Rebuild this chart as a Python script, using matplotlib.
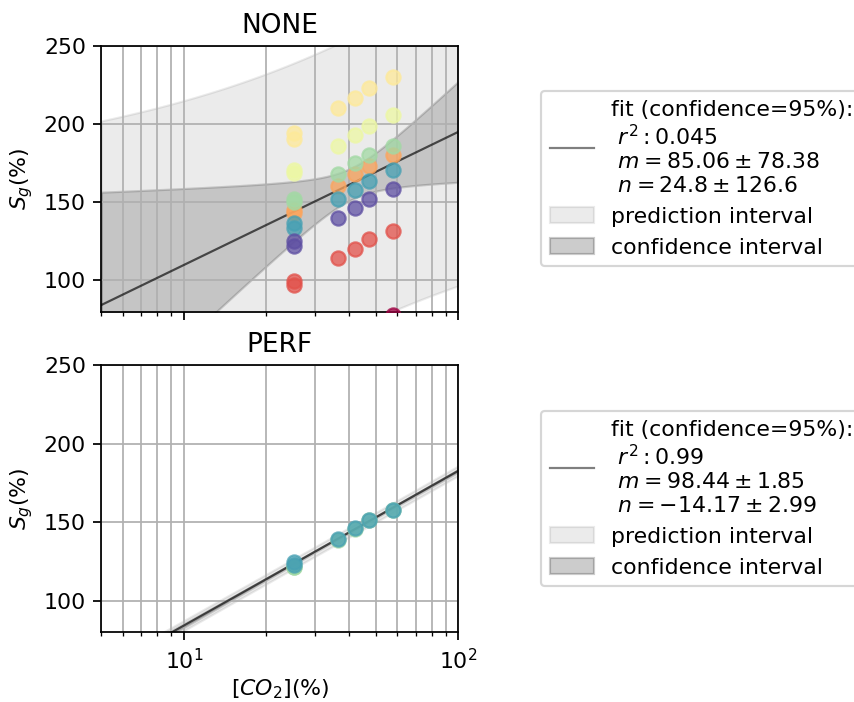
import numpy as np
import matplotlib
matplotlib.use("Agg")
import matplotlib.pyplot as plt
from matplotlib.lines import Line2D
from matplotlib.patches import Patch

# CO2 concentration of each sample (first level measured twice)
co2 = [25.3, 25.3, 36.5, 42.1, 47.4, 57.7]

# NONE: measured S_g per series (Spectral colour order)
none_series = [
    [np.nan, np.nan, np.nan, np.nan, np.nan, 78.0],
    [99.4, 97.2, 114.3, 120.0, 126.4, 131.7],
    [144.7, 143.0, 160.6, 167.9, 173.2, 180.2],
    [194.5, 190.2, 210.0, 216.8, 222.8, 229.8],
    [170.7, 168.5, 186.0, 193.0, 198.7, 205.8],
    [152.0, 150.0, 167.9, 174.9, 180.2, 186.0],
    [136.6, 133.4, 152.0, 157.9, 163.8, 170.7],
    [124.9, 121.7, 139.8, 146.2, 152.0, 158.3],
]

# PERF: measured S_g (two overlapping series)
perf_series = {
    5: [121.6, 121.6, 138.8, 145.8, 151.2, 157.5],
    6: [124.8, 122.6, 139.1, 146.1, 151.4, 157.7],
}

panels = ["NONE", "PERF"]
r2 = ["0.045", "0.99"]
slope = [85.06, 98.44]
slope_err = [78.38, 1.85]
intercept = [24.8, -14.17]
intercept_err = [126.6, 2.99]
log_x_mean = [1.61, 1.605]
resid_spread = [93.0, 3.0]

colors = plt.cm.Spectral(np.linspace(0, 1, 8))

W, H, DPI = 854, 702, 158
fig = plt.figure(figsize=(W / DPI, H / DPI), dpi=DPI)
ax_top = fig.add_axes([0.1186, 0.556, 0.418, 0.3789])
ax_bot = fig.add_axes([0.1186, 0.0993, 0.418, 0.3808], sharex=ax_top)
axes = [ax_top, ax_bot]

u = np.linspace(np.log10(5), 2, 300)
xs = 10 ** u

for i, ax in enumerate(axes):
    m, n = slope[i], intercept[i]
    me, ne = slope_err[i], intercept_err[i]
    fit = m * u + n
    ci = np.sqrt(np.clip(ne ** 2 + me ** 2 * (u ** 2 - 2 * u * log_x_mean[i]), 0, None))
    pi = np.sqrt(resid_spread[i] ** 2 + ci ** 2)

    ax.fill_between(xs, fit - pi, fit + pi, color="k", alpha=0.08)
    ax.fill_between(xs, fit - ci, fit + ci, color="k", alpha=0.16)
    ax.plot(xs, fit, color="k", alpha=0.65, lw=1, zorder=2.5)

    if i == 0:
        for k, ys in enumerate(none_series):
            ax.scatter(co2, ys, color=colors[k], alpha=0.75, s=42, zorder=3)
    else:
        for k, ys in perf_series.items():
            ax.scatter(co2, ys, color=colors[k], alpha=0.75, s=42, zorder=3)

    ax.set_xscale("log")
    ax.set_xlim(5, 100)
    ax.set_ylim(80, 250)
    ax.set_yticks([100, 150, 200, 250])
    ax.grid(True, which="major", axis="both", color="#b0b0b0")
    ax.grid(True, which="minor", axis="x", color="#b0b0b0")
    ax.set_title(panels[i])
    ax.set_ylabel(r"$S_g(\%)$")

    label = ("fit (confidence=95%):\n"
             f" $r^2: {r2[i]}$\n"
             f" $m={m:.2f}\\pm{me:.2f}$\n"
             f" $n={n}\\pm{ne}$")
    handles = [
        Line2D([], [], color="k", alpha=0.5, lw=1),
        Patch(facecolor="k", edgecolor="k", alpha=0.08),
        Patch(facecolor="k", edgecolor="k", alpha=0.2),
    ]
    ax.legend(handles, [label, "prediction interval", "confidence interval"],
              loc="center left", bbox_to_anchor=(1.201, 0.5))

plt.setp(ax_top.get_xticklabels(), visible=False)
ax_bot.set_xlabel(r"$[CO_2](\%)$", labelpad=2)

fig.savefig("out.png", dpi=DPI)
